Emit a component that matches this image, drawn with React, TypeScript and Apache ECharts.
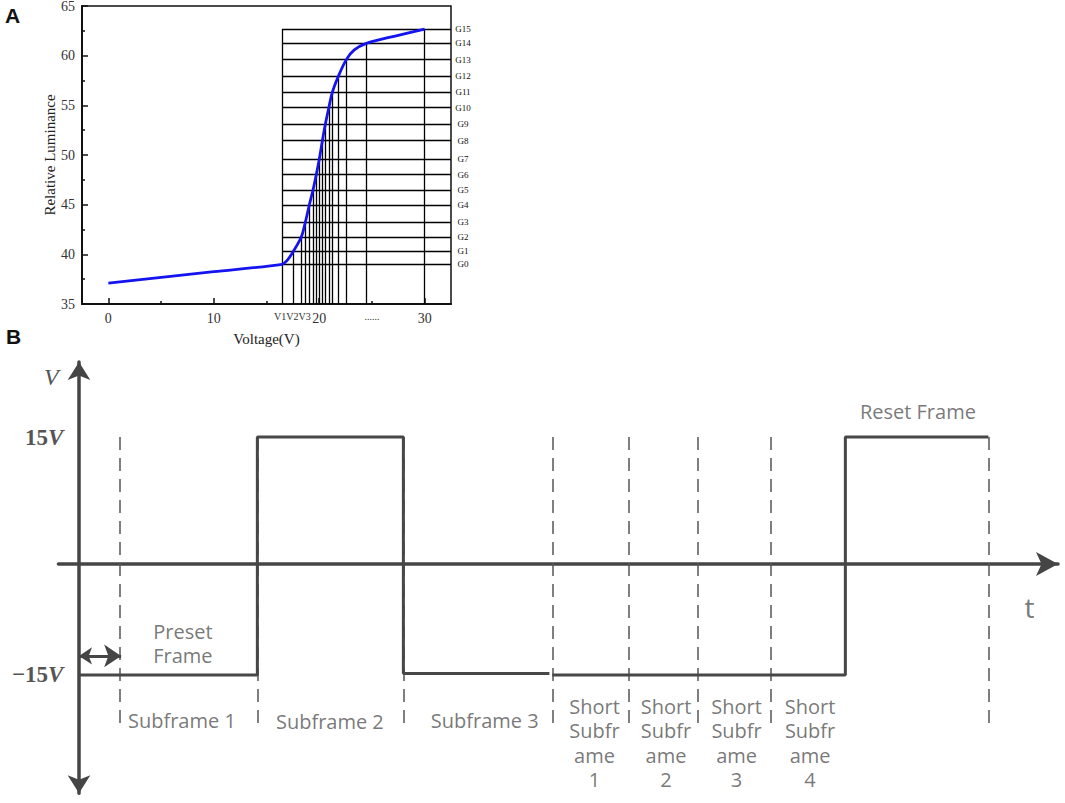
import React, { useEffect, useRef } from "react";
import * as echarts from "echarts";

// ---------------- Panel A data ----------------
const lumTicks = [35, 40, 45, 50, 55, 60, 65];
const voltTicks = [0, 10, 20, 30];
const voltMinorTicks = [5, 15, 25];
const grayNames = ["G0", "G1", "G2", "G3", "G4", "G5", "G6", "G7", "G8", "G9", "G10", "G11", "G12", "G13", "G14", "G15"];
const grayLum = [39.0, 40.34, 41.74, 43.22, 44.97, 46.48, 48.02, 49.6, 51.44, 53.09, 54.76, 56.31, 57.92, 59.6, 61.24, 62.68];
const grayVolt = [16.47, 17.57, 18.3, 18.68, 19.06, 19.41, 19.72, 20.01, 20.3, 20.58, 20.91, 21.24, 21.81, 22.57, 24.47, 30.0];
// luminance curve (includes the gray-level points)
const curveVolt = [0, 10, 16.47, 16.94, 17.57, 18.3, 18.68, 19.06, 19.41, 19.72, 20.01, 20.3, 20.58, 20.91, 21.24, 21.81, 22.57, 23.3, 24.47, 27.3, 30.0];
const curveLum = [37.1, 38.25, 39.0, 39.36, 40.34, 41.74, 43.22, 44.97, 46.48, 48.02, 49.6, 51.44, 53.09, 54.76, 56.31, 57.92, 59.6, 60.55, 61.24, 62.0, 62.68];
const voltMin = -2.5;
const voltMax = 32.5;
const lumMin = 35;
const lumMax = 65;
const extraXLabelValues = [17.45, 25];
const extraXLabelTexts = ["V1V2V3", "......"];

// ---------------- Panel B data ----------------
const tMin = -2.1;
const tMax = 99.9;
const vMin = -29.9;
const vMax = 24.45;
const levelTicks = [15, -15];
const levelTexts = ["15", "\u221215"];
const wave1T = [0, 18.2, 18.2, 33.1, 33.1, 48.0];
const wave1V = [-15, -15, 15, 15, -14.8, -14.8];
const wave2T = [48.3, 78.2, 78.2, 92.8];
const wave2V = [-15, -15, 15, 15];
const dashT = [4.2, 18.2, 33.1, 48.3, 56.1, 63.1, 70.6, 92.8];
const dashTop = 15;
const dashBottom = -21.3;
const arrowT = [0, 4.3];
const arrowV = -12.6;
const labelTexts = [
  "Preset\nFrame",
  "Subframe 1",
  "Subframe 2",
  "Subframe 3",
  "Short\nSubfr\name\n1",
  "Short\nSubfr\name\n2",
  "Short\nSubfr\name\n3",
  "Short\nSubfr\name\n4",
  "Reset Frame",
  "t",
];
const labelT = [10.6, 10.5, 25.6, 41.4, 52.6, 59.9, 67.1, 74.6, 85.6, 97.0];
const labelV = [-11.0, -20.7, -20.9, -20.7, -23.6, -23.6, -23.6, -23.6, 18.2, -6.4];

const serif = "'Liberation Serif', 'DejaVu Serif', serif";
const sans = "'Open Sans', 'Noto Sans', sans-serif";

export default function App() {
  const ref = useRef<HTMLDivElement>(null);

  useEffect(() => {
    if (!ref.current) return;
    const chart = echarts.init(ref.current, undefined, { renderer: "svg" });

    const curveData = curveVolt.map((v, i) => [v, curveLum[i]]);

    const gridLinesA: any[] = [];
    grayLum.forEach((l) => {
      gridLinesA.push({ coords: [[grayVolt[0], l], [voltMax, l]] });
    });
    grayVolt.forEach((v, i) => {
      const top = i === 0 ? grayLum[grayLum.length - 1] : grayLum[i];
      gridLinesA.push({ coords: [[v, lumMin], [v, top]] });
    });

    const dashLines = dashT.map((t) => ({ coords: [[t, dashTop], [t, dashBottom]] }));

    const labelData = labelTexts.map((txt, i) => {
      const item: any = { name: txt, value: [labelT[i], labelV[i]] };
      if (txt === "t") item.label = { fontSize: 28 };
      return item;
    });

    // grid B geometry: 9.8 px per time unit, 7.933 px per volt
    const pxT = 9.8;
    const pxV = 7.933;
    const gridBLeft = 79 + tMin * pxT;
    const gridBTop = 556 - vMax * pxV;
    const gridBHeight = (vMax - vMin) * pxV;

    const option: any = {
      animation: false,
      grid: [
        {
          left: 82,
          top: 6,
          width: 369,
          height: 298,
          show: true,
          borderColor: "#111",
          borderWidth: 1.5,
          backgroundColor: "transparent",
          outerBoundsMode: "none",
          containLabel: false,
        },
        {
          left: gridBLeft,
          top: gridBTop,
          width: (tMax - tMin) * pxT,
          height: gridBHeight,
          outerBoundsMode: "none",
          containLabel: false,
        },
      ],
      xAxis: [
        {
          gridIndex: 0,
          type: "value",
          min: voltMin,
          max: voltMax,
          name: "Voltage(V)",
          nameLocation: "middle",
          nameGap: 27,
          nameTextStyle: { fontFamily: serif, fontSize: 15, color: "#222" },
          axisLine: { show: true, onZero: false, lineStyle: { color: "#111", width: 2 } },
          axisTick: { show: true, inside: true, length: 6, customValues: voltTicks, lineStyle: { color: "#111", width: 1.5 } },
          axisLabel: {
            customValues: voltTicks.concat(extraXLabelValues),
            margin: 7,
            fontFamily: serif,
            fontSize: 14,
            color: "#333",
            formatter: (v: number) => {
              const k = extraXLabelValues.findIndex((e) => Math.abs(e - v) < 1e-6);
              if (k >= 0) return "{s|" + extraXLabelTexts[k] + "}";
              return String(v);
            },
            rich: { s: { fontFamily: serif, fontSize: 10, color: "#333", padding: [0, 0, 3, 0] } },
          },
          splitLine: { show: false },
        },
        {
          gridIndex: 0,
          type: "value",
          min: voltMin,
          max: voltMax,
          position: "bottom",
          axisLine: { show: false, onZero: false },
          axisTick: { show: true, inside: true, length: 3, customValues: voltMinorTicks, lineStyle: { color: "#111", width: 1.5 } },
          axisLabel: { show: false },
          splitLine: { show: false },
        },
        {
          gridIndex: 1,
          type: "value",
          min: tMin,
          max: tMax,
          position: "bottom",
          offset: -(gridBTop + gridBHeight - 564),
          axisLine: {
            show: true,
            onZero: false,
            symbol: ["none", "arrow"],
            symbolSize: [18, 22],
            lineStyle: { color: "#454545", width: 3.5 },
          },
          axisTick: { show: false },
          axisLabel: { show: false },
          splitLine: { show: false },
        },
      ],
      yAxis: [
        {
          gridIndex: 0,
          type: "value",
          min: lumMin,
          max: lumMax,
          interval: 5,
          name: "Relative Luminance",
          nameLocation: "middle",
          nameGap: 24,
          nameTextStyle: { fontFamily: serif, fontSize: 15, color: "#222" },
          axisLine: { show: true, onZero: false, lineStyle: { color: "#111", width: 2 } },
          axisTick: { show: true, inside: true, length: 6, lineStyle: { color: "#111", width: 1.5 } },
          minorTick: { show: true, splitNumber: 2, length: 3, lineStyle: { color: "#111", width: 1.5 } },
          axisLabel: { margin: 7, fontFamily: serif, fontSize: 14, color: "#333", customValues: lumTicks },
          splitLine: { show: false },
          minorSplitLine: { show: false },
        },
        {
          gridIndex: 0,
          type: "value",
          min: lumMin,
          max: lumMax,
          position: "right",
          axisLine: { show: false },
          axisTick: { show: false },
          axisLabel: {
            customValues: grayLum,
            margin: 12,
            align: "center",
            fontFamily: serif,
            fontSize: 9,
            color: "#111",
            formatter: (v: number) => {
              const k = grayLum.findIndex((g) => Math.abs(g - v) < 1e-6);
              return k >= 0 ? grayNames[k] : "";
            },
          },
          splitLine: { show: false },
        },
        {
          gridIndex: 1,
          type: "value",
          min: vMin,
          max: vMax,
          axisLine: {
            show: true,
            onZero: true,
            symbol: ["arrow", "arrow"],
            symbolSize: [17, 18],
            lineStyle: { color: "#454545", width: 3.5 },
          },
          axisTick: { show: false },
          axisLabel: {
            customValues: levelTicks,
            margin: -5,
            fontFamily: serif,
            fontSize: 23,
            fontWeight: "bold",
            color: "#555",
            formatter: (v: number) => {
              const k = levelTicks.findIndex((e) => Math.abs(e - v) < 1e-6);
              return "{n|" + levelTexts[k] + "}{i|V}";
            },
            rich: {
              n: { fontFamily: serif, fontSize: 23, fontWeight: "bold", color: "#555" },
              i: { fontFamily: serif, fontSize: 23, fontStyle: "italic", color: "#555" },
            },
          },
          splitLine: { show: false },
        },
      ],
      series: [
        {
          type: "lines",
          coordinateSystem: "cartesian2d",
          xAxisIndex: 0,
          yAxisIndex: 0,
          silent: true,
          z: 3,
          lineStyle: { color: "#000", width: 1.3, opacity: 1 },
          data: gridLinesA,
        },
        {
          type: "line",
          xAxisIndex: 0,
          yAxisIndex: 0,
          data: curveData,
          smooth: 0.3,
          symbol: "none",
          silent: true,
          z: 5,
          lineStyle: { color: "#1414f0", width: 2.8 },
        },
        {
          type: "lines",
          coordinateSystem: "cartesian2d",
          xAxisIndex: 2,
          yAxisIndex: 2,
          silent: true,
          z: 2,
          lineStyle: { color: "#555", width: 1.5, opacity: 1, type: [13, 8] },
          data: dashLines,
        },
        {
          type: "line",
          xAxisIndex: 2,
          yAxisIndex: 2,
          data: wave1T.map((t, i) => [t, wave1V[i]]),
          symbol: "none",
          silent: true,
          z: 4,
          lineStyle: { color: "#474747", width: 3 },
        },
        {
          type: "line",
          xAxisIndex: 2,
          yAxisIndex: 2,
          data: wave2T.map((t, i) => [t, wave2V[i]]),
          symbol: "none",
          silent: true,
          z: 4,
          lineStyle: { color: "#474747", width: 3 },
        },
        {
          type: "lines",
          coordinateSystem: "cartesian2d",
          xAxisIndex: 2,
          yAxisIndex: 2,
          silent: true,
          z: 4,
          symbol: ["arrow", "arrow"],
          symbolSize: [13, 17],
          lineStyle: { color: "#454545", width: 3, opacity: 1 },
          itemStyle: { color: "#454545" },
          data: [{ coords: [[arrowT[0], arrowV], [arrowT[1], arrowV]] }],
        },
        {
          type: "scatter",
          xAxisIndex: 2,
          yAxisIndex: 2,
          symbolSize: 0.01,
          silent: true,
          z: 6,
          itemStyle: { color: "transparent" },
          label: {
            show: true,
            position: "inside",
            formatter: "{b}",
            fontFamily: sans,
            fontSize: 20,
            lineHeight: 24.5,
            color: "#555",
            align: "center",
            verticalAlign: "middle",
          },
          data: labelData,
        },
      ],
      graphic: [
        {
          type: "text",
          left: 5,
          top: 5,
          style: { text: "A", fontFamily: "'Liberation Sans', Arial, sans-serif", fontWeight: "bold", fontSize: 21, fill: "#111" },
        },
        {
          type: "text",
          left: 6,
          top: 326,
          style: { text: "B", fontFamily: "'Liberation Sans', Arial, sans-serif", fontWeight: "bold", fontSize: 21, fill: "#111" },
        },
        {
          type: "text",
          left: 44,
          top: 365,
          style: { text: "V", fontFamily: serif, fontStyle: "italic", fontSize: 24, fill: "#555" },
        },
      ],
    };

    chart.setOption(option);
    return () => chart.dispose();
  }, []);

  return <div ref={ref} style={{ width: 1065, height: 803, position: "absolute", left: 0, top: 0, background: "#fff" }} />;
}
